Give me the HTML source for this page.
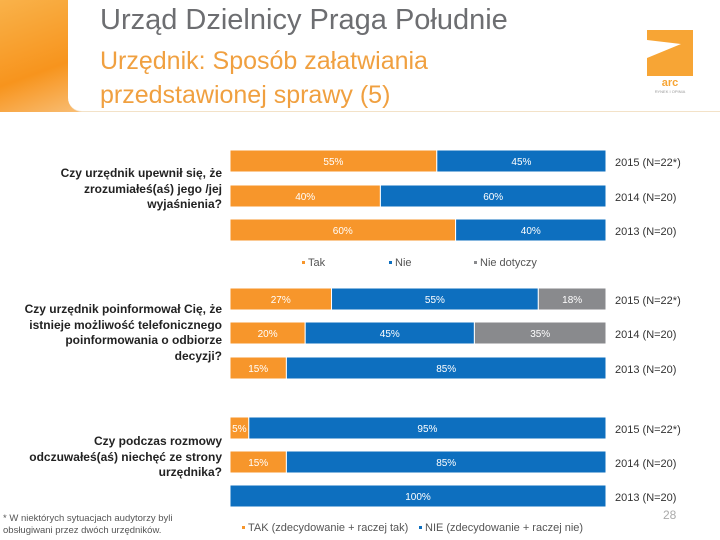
<!DOCTYPE html>
<html><head><meta charset="utf-8">
<style>
body{margin:0;width:720px;height:540px;position:relative;background:#fff;font-family:"Liberation Sans",sans-serif;overflow:hidden}
.q{position:absolute;right:498px;text-align:right;font-size:12px;font-weight:bold;color:#222;line-height:15.5px;white-space:nowrap}
</style></head><body>
<div style="position:absolute;left:0;top:0;width:90px;height:112px;background:linear-gradient(160deg,#f9b24a,#f7941d 60%,#f9c07a)"></div>
<div style="position:absolute;left:68px;top:0;width:652px;height:111px;background:#fff;border-bottom-left-radius:14px;border-bottom:1px solid #f3e2c8"></div>
<div style="position:absolute;left:100px;top:4px;font-size:29px;color:#6d6e71">Urząd Dzielnicy Praga Południe</div>
<div style="position:absolute;left:100px;top:44px;font-size:25px;line-height:34px;color:#f0a040">Urzędnik: Sposób załatwiania<br>przedstawionej sprawy (5)</div>
<svg style="position:absolute;left:645px;top:28px" width="50" height="66" viewBox="0 0 50 66">
<path d="M2 2 H48 V48 H2 V30 L36 16 L2 12 Z" fill="#f7a535"/>
<text x="25" y="58" font-size="11" font-weight="bold" fill="#f7a535" text-anchor="middle" font-family="Liberation Sans">arc</text>
<text x="25" y="65" font-size="4" fill="#999" text-anchor="middle" font-family="Liberation Sans">RYNEK I OPINIA</text>
</svg>
<div class="q" style="top:166px">Czy urzędnik upewnił się, że<br>zrozumiałeś(aś) jego /jej<br>wyjaśnienia?</div>
<div class="q" style="top:302px">Czy urzędnik poinformował Cię, że<br>istnieje możliwość telefonicznego<br>poinformowania o odbiorze<br>decyzji?</div>
<div class="q" style="top:434px">Czy podczas rozmowy<br>odczuwałeś(aś) niechęć ze strony<br>urzędnika?</div>
<div style="position:absolute;left:3px;top:513px;font-size:9.5px;color:#555;line-height:12px">* W niektórych sytuacjach audytorzy byli<br>obsługiwani przez dwóch urzędników.</div>
<div style="position:absolute;left:663px;top:508px;font-size:12px;color:#aaa">28</div>
<svg id="chart" width="720" height="540" style="position:absolute;left:0;top:0"></svg>
<script>
const yearLabels=["2015 (N=22*)","2014 (N=20)","2013 (N=20)"];
const q1Tak=[55,40,60], q1Nie=[45,60,40];
const q2Tak=[27,20,15], q2Nie=[55,45,85], q2Nd=[18,35,0];
const q3Tak=[5,15,0], q3Nie=[95,85,100];
const colors={tak:"#f7962b",nie:"#0d6fbf",nd:"#898a8d"};
const svg=document.getElementById('chart');
const NS="http://www.w3.org/2000/svg";
const x0=230,W=376;
const xs=v=>v/100*W;
function mk(t,a){const e=document.createElementNS(NS,t);for(const k in a)e.setAttribute(k,a[k]);svg.appendChild(e);return e;}
function group(tops,series,keys,gname){
  tops.forEach((top,i)=>{
    let x=x0;
    series.forEach((s,j)=>{
      const v=s[i]; if(!v) return;
      const w=xs(v);
      const r=mk('rect',{x:x,y:top,width:w,height:22,fill:colors[keys[j]],stroke:'#fff','stroke-width':1});
      
      
      const t=mk('text',{x:x+w/2,y:top+15,'font-size':10,fill:'#fff','text-anchor':'middle','font-family':'Liberation Sans'});
      t.textContent=v+'%';
      
      
      x+=w;
    });
    const l=mk('text',{x:615,y:top+16,'font-size':11,fill:'#333','font-family':'Liberation Sans'});
    l.textContent=yearLabels[i];
    
    
  });
}
group([150,185,219],[q1Tak,q1Nie],['tak','nie'],'q1');
group([288,322,357],[q2Tak,q2Nie,q2Nd],['tak','nie','nd'],'q2');
group([417,451,485],[q3Tak,q3Nie],['tak','nie'],'q3');
function legend(x,y,c,txt){
  const r=mk('rect',{x:x,y:y-5,width:3,height:3,fill:c});
  
  
  const t=mk('text',{x:x+6,y:y,'font-size':11,fill:'#555','font-family':'Liberation Sans'});
  t.textContent=txt;
  
  
}
legend(302,266,colors.tak,'Tak');
legend(389,266,colors.nie,'Nie');
legend(474,266,colors.nd,'Nie dotyczy');
legend(242,531,colors.tak,'TAK (zdecydowanie + raczej tak)');
legend(419,531,colors.nie,'NIE (zdecydowanie + raczej nie)');
</script>
</body></html>
